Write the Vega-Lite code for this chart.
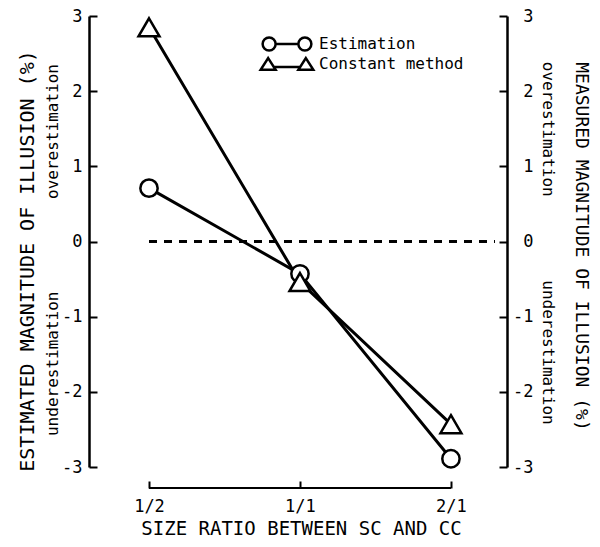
{
  "$schema": "https://vega.github.io/schema/vega-lite/v6.json",
  "width": 418,
  "height": 451,
  "autosize": "none",
  "padding": {"left": 89, "top": 16, "right": 93, "bottom": 80},
  "background": "white",
  "config": {
    "view": {"stroke": null},
    "font": "DejaVu Sans Mono",
    "axis": {
      "labelFont": "DejaVu Sans Mono",
      "titleFont": "DejaVu Sans Mono",
      "labelColor": "black",
      "titleColor": "black",
      "domainColor": "black",
      "tickColor": "black",
      "grid": false,
      "titleFontWeight": "normal",
      "labelFlush": false,
      "labelOverlap": false
    },
    "legend": {"labelFont": "DejaVu Sans Mono"}
  },
  "data": {
    "values": [
      {"ratio": 0.5, "series": "Estimation", "value": 0.71},
      {"ratio": 1, "series": "Estimation", "value": -0.43},
      {"ratio": 2, "series": "Estimation", "value": -2.89},
      {"ratio": 0.5, "series": "Constant method", "value": 2.85},
      {"ratio": 1, "series": "Constant method", "value": -0.54},
      {"ratio": 2, "series": "Constant method", "value": -2.43}
    ]
  },
  "resolve": {"scale": {"y": "independent", "shape": "independent"}},
  "layer": [
    {
      "mark": {"type": "line", "color": "black", "strokeWidth": 3},
      "encoding": {
        "x": {
          "field": "ratio",
          "type": "quantitative",
          "scale": {"type": "log", "base": 2, "domain": [0.3796, 2.587], "nice": false},
          "axis": {
            "orient": "bottom",
            "values": [0.5, 1, 2],
            "labelExpr": "datum.value == 0.5 ? '1/2' : datum.value == 1 ? '1/1' : '2/1'",
            "offset": 21,
            "domain": false,
            "tickSize": -7,
            "tickWidth": 2,
            "labelFontSize": 17,
            "labelPadding": 30,
            "labelBaseline": "alphabetic",
            "title": "SIZE RATIO BETWEEN SC AND CC",
            "titleFontSize": 19,
            "titleX": 212,
            "titleY": 46.5,
            "titleBaseline": "alphabetic",
            "titleAlign": "center"
          }
        },
        "y": {
          "field": "value",
          "type": "quantitative",
          "scale": {"domain": [-3, 3], "nice": false, "zero": false},
          "axis": {
            "orient": "left",
            "values": [-3, -2, -1, 0, 1, 2, 3],
            "labelExpr": "datum.value < 0 ? '-' + abs(datum.value) : '' + datum.value",
            "tickSize": -8,
            "tickWidth": 2,
            "domainWidth": 2.5,
            "labelFontSize": 17,
            "labelPadding": 15,
            "title": null
          }
        },
        "detail": {"field": "series"}
      }
    },
    {
      "mark": {"type": "rule", "color": "black", "strokeWidth": 2, "strokeDash": [8, 7]},
      "encoding": {
        "x": {"datum": 0.5, "type": "quantitative", "scale": {"type": "log", "base": 2, "domain": [0.3796, 2.587], "nice": false}},
        "x2": {"datum": 2.447},
        "y": {
          "datum": 0,
          "type": "quantitative",
          "scale": {"domain": [-3, 3], "nice": false, "zero": false},
          "axis": {
            "orient": "right",
            "values": [-3, -2, -1, 0, 1, 2, 3],
            "labelExpr": "datum.value < 0 ? '-' + abs(datum.value) : '' + datum.value",
            "tickSize": -8,
            "tickWidth": 2,
            "domainWidth": 2.5,
            "labelFontSize": 17,
            "labelPadding": 34,
            "labelAlign": "right",
            "title": null
          }
        }
      }
    },
    {
      "mark": {"type": "rule", "color": "black", "strokeWidth": 2},
      "encoding": {
        "x": {"datum": 0.5, "type": "quantitative", "scale": {"type": "log", "base": 2, "domain": [0.3796, 2.587], "nice": false}},
        "x2": {"datum": 2},
        "y": {
          "datum": -3.28,
          "type": "quantitative",
          "scale": {"domain": [-3, 3], "nice": false, "zero": false},
          "axis": {
            "orient": "right",
            "values": [1.5, -1.47],
            "labelExpr": "datum.value > 0 ? 'overestimation' : 'underestimation'",
            "ticks": false,
            "tickSize": 0,
            "domain": false,
            "labelAngle": 90,
            "labelAlign": "center",
            "labelBaseline": "alphabetic",
            "labelPadding": 35,
            "labelFontSize": 16,
            "title": "MEASURED MAGNITUDE OF ILLUSION (%)",
            "titleFontSize": 18,
            "titleAngle": 90,
            "titleAlign": "center",
            "titleBaseline": "alphabetic",
            "titleX": 68,
            "titleY": 230
          }
        }
      }
    },
    {
      "mark": {"type": "point", "filled": true, "fill": "white", "stroke": "black", "strokeWidth": 2.5, "size": 0, "opacity": 1},
      "encoding": {
        "x": {"field": "ratio", "type": "quantitative", "scale": {"type": "log", "base": 2, "domain": [0.3796, 2.587], "nice": false}},
        "y": {
          "field": "value",
          "type": "quantitative",
          "scale": {"domain": [-3, 3], "nice": false, "zero": false},
          "axis": {
            "orient": "left",
            "values": [1.47, -1.62],
            "labelExpr": "datum.value > 0 ? 'overestimation' : 'underestimation'",
            "ticks": false,
            "tickSize": 0,
            "domain": false,
            "labelAngle": 270,
            "labelAlign": "center",
            "labelBaseline": "alphabetic",
            "labelPadding": 31.5,
            "labelFontSize": 16,
            "title": "ESTIMATED MAGNITUDE OF ILLUSION (%)",
            "titleFontSize": 20,
            "titleAngle": 270,
            "titleAlign": "center",
            "titleBaseline": "alphabetic",
            "titleX": -56,
            "titleY": 244.5
          }
        },
        "shape": {
          "field": "series",
          "type": "nominal",
          "scale": {
            "domain": ["Estimation", "Constant method"],
            "range": [
              "M-3.75,0A1,1 0 1,1 -1.75,0A1,1 0 1,1 -3.75,0Z M-1.75,0L1.75,0 M1.75,0A1,1 0 1,1 3.75,0A1,1 0 1,1 1.75,0Z",
              "M-2.9,-0.9L-1.75,0.9L-4.05,0.9Z M-2.05,0.45L2.05,0.45 M2.9,-0.9L4.05,0.9L1.75,0.9Z"
            ]
          },
          "legend": {
            "orient": "none",
            "legendX": 190,
            "legendY": 20,
            "title": null,
            "padding": 0,
            "symbolSize": 169,
            "symbolOffset": 0,
            "symbolStrokeWidth": 2.5,
            "labelFontSize": 16,
            "labelColor": "black",
            "labelOffset": 24,
            "rowPadding": -4
          }
        }
      }
    },
    {
      "mark": {"type": "point", "filled": true, "fill": "white", "stroke": "black", "strokeWidth": 2.5, "size": 300, "opacity": 1},
      "encoding": {
        "x": {"field": "ratio", "type": "quantitative", "scale": {"type": "log", "base": 2, "domain": [0.3796, 2.587], "nice": false}},
        "y": {"field": "value", "type": "quantitative", "scale": {"domain": [-3, 3], "nice": false, "zero": false}, "axis": null},
        "shape": {
          "field": "series",
          "type": "nominal",
          "scale": {"domain": ["Estimation", "Constant method"], "range": ["circle", "M0,-1.04L1.21,1.04L-1.21,1.04Z"]},
          "legend": null
        }
      }
    }
  ]
}
